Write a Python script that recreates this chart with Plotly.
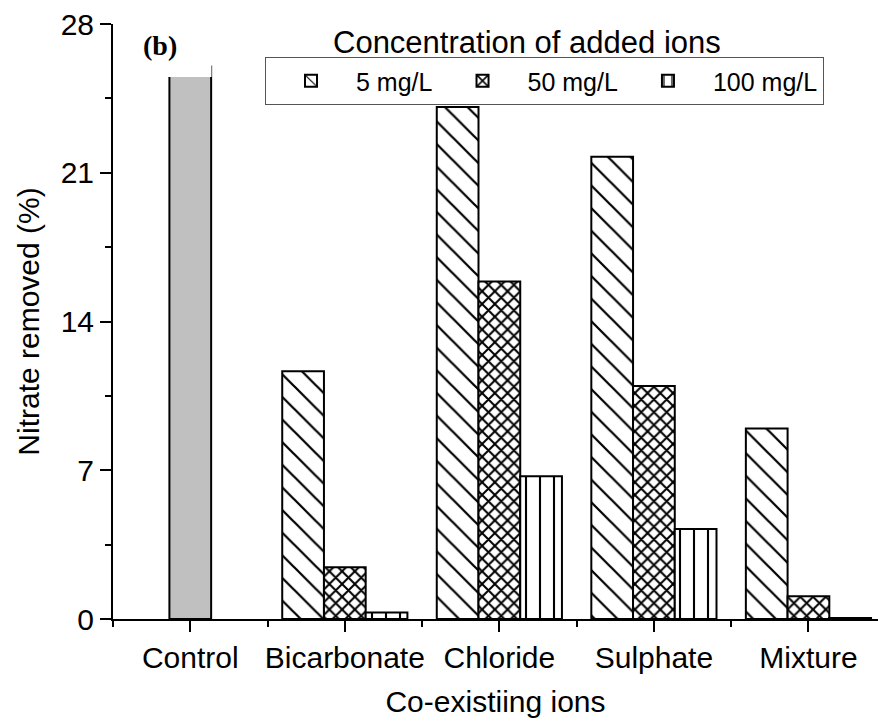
import plotly.graph_objects as go

categories = ["Control", "Bicarbonate", "Chloride", "Sulphate", "Mixture"]
control_value = [26.0]
conc_labels = ["5 mg/L", "50 mg/L", "100 mg/L"]
ions = ["Bicarbonate", "Chloride", "Sulphate", "Mixture"]
removed_5 = [11.66, 24.1, 21.75, 8.97]
removed_50 = [2.43, 15.88, 10.96, 1.07]
removed_100 = [0.31, 6.72, 4.23, 0.05]
y_ticks = [0, 7, 14, 21, 28]

pos = {c: i for i, c in enumerate(categories)}
W = 0.27
FONT = "Liberation Sans, Arial, sans-serif"

fig = go.Figure()
fig.add_trace(go.Bar(
    x=[pos["Control"]], y=control_value, width=W, offset=-W / 2,
    marker=dict(color="#c0c0c0", line=dict(color="black", width=2)),
    showlegend=False, name="Control"))

series = [
    (removed_5, conc_labels[0], "\\", 16, 0.14, -1.5 * W),
    (removed_50, conc_labels[1], "x", 9, 0.4, -0.5 * W),
    (removed_100, conc_labels[2], "|", 14, 0.15, 0.5 * W),
]
for vals, name, shp, size, sol, off in series:
    fig.add_trace(go.Bar(
        x=[pos[c] for c in ions], y=vals, name=name, width=W, offset=off,
        marker=dict(color="white",
                    line=dict(color="black", width=2),
                    pattern=dict(shape=shp, size=size, solidity=sol,
                                 fgcolor="black", bgcolor="white", fgopacity=1,
                                 fillmode="overlay")),
    ))

fig.update_layout(
    width=878, height=722,
    margin=dict(l=113, r=0, t=24, b=103, autoexpand=False),
    plot_bgcolor="white", paper_bgcolor="white",
    barmode="overlay",
    font=dict(family=FONT, size=30, color="black"),
    legend=dict(orientation="h", x=(265 - 113) / 765, y=(619 - 57) / 595,
                xanchor="left", yanchor="top",
                bordercolor="#555555", borderwidth=1, bgcolor="white",
                font=dict(size=25), itemwidth=80, tracegroupgap=0),
    xaxis=dict(range=[-0.5, 4.45], tickmode="array",
               tickvals=list(range(len(categories))), ticktext=categories,
               showline=True, linecolor="black", linewidth=2,
               ticks="outside", ticklen=11, tickwidth=2, tickcolor="black",
               minor=dict(ticks="outside", ticklen=6, tickwidth=2, tickcolor="black",
                          tick0=-0.5, dtick=1),
               showgrid=False, zeroline=False,
               title=dict(text="Co-existiing ions", font=dict(size=30), standoff=18)),
    yaxis=dict(range=[0, 28], tickmode="array", tickvals=y_ticks,
               showline=True, linecolor="black", linewidth=2,
               ticks="outside", ticklen=11, tickwidth=2, tickcolor="black",
               minor=dict(ticks="outside", ticklen=6, tickwidth=2, tickcolor="black",
                          tick0=0, dtick=3.5),
               showgrid=False, zeroline=False,
               title=dict(text="Nitrate removed (%)", font=dict(size=30), standoff=12)),
    shapes=[dict(type="rect", xref="paper", yref="paper",
                 x0=4 / 765, x1=98.5 / 765, y0=(619 - 77) / 595, y1=(619 - 13) / 595,
                 fillcolor="white", line=dict(width=0), layer="above")],
    annotations=[
        dict(text="<b>(b)</b>", xref="paper", yref="paper", x=(160 - 113) / 765,
             y=(619 - 46) / 595, xanchor="center", yanchor="middle", showarrow=False,
             font=dict(family="Liberation Serif, Times New Roman, serif", size=28)),
        dict(text="Concentration of added ions", xref="paper", yref="paper",
             x=(527 - 113) / 765, y=(619 - 42) / 595, xanchor="center", yanchor="middle",
             showarrow=False, font=dict(size=31)),
    ],
)

fig.write_html("out.html")
